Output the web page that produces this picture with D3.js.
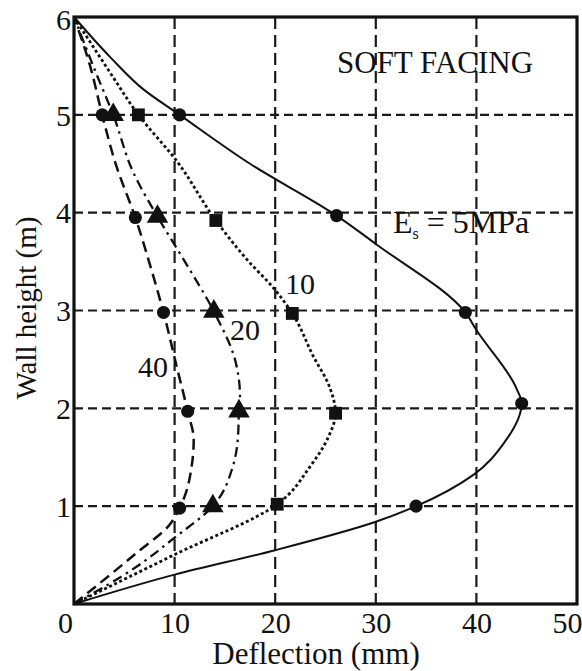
<!DOCTYPE html>
<html>
<head>
<meta charset="utf-8">
<script src="https://cdn.jsdelivr.net/npm/d3@7"></script>
<style>
  body { margin: 0; background: #fff; }
  svg { display: block; }
</style>
</head>
<body>
<div id="chart"></div>
<script>
// ---- data (deflection mm, wall height m) ----
const xTicks = [0, 10, 20, 30, 40, 50];
const yTicks = [1, 2, 3, 4, 5, 6];

// curve traces
const es5 = [[0,0],[10,0.3],[20,0.55],[30,0.84],[34,1],[39.7,1.32],[42.7,1.64],[44.5,2.05],[44,2.2],[40,2.8],[38.9,2.98],[30,3.68],[26.1,3.97],[17.5,4.5],[10.5,5],[6.9,5.26],[3.6,5.59],[0,6]];
const es10 = [[0,0],[9.9,0.5],[20.2,1.02],[23.5,1.41],[25.3,1.71],[26,1.95],[25.4,2.22],[23.8,2.53],[21.7,2.97],[20,3.21],[17.2,3.52],[14.1,3.92],[10.2,4.53],[6.4,5],[3.6,5.43],[0,6]];
const es20 = [[0,0],[6.2,0.38],[9.9,0.67],[13.8,1],[15.8,1.41],[16.3,1.71],[16.4,1.97],[16.5,2.12],[16,2.5],[13.9,2.99],[10.9,3.52],[8.3,3.96],[5.9,4.41],[3.9,5],[2.3,5.4],[0,6]];
const es40 = [[0,0],[6.2,0.52],[9.5,0.81],[10.5,0.98],[11,1.1],[11.7,1.41],[11.9,1.68],[11.3,1.97],[10.2,2.43],[8.9,2.98],[7.6,3.45],[6.1,3.95],[4.2,4.48],[2.8,5],[1.6,5.5],[0,6]];

// measured points (markers)
const es5Pts = [[34,1],[44.5,2.05],[38.9,2.98],[26.1,3.97],[10.5,5]];
const es10Pts = [[20.2,1.02],[26,1.95],[21.7,2.97],[14.1,3.92],[6.4,5]];
const es20Pts = [[13.8,1],[16.4,1.97],[13.9,2.99],[8.3,3.96],[3.9,5]];
const es40Pts = [[10.5,0.98],[11.3,1.97],[8.9,2.98],[6.1,3.95],[2.8,5]];

const series = [
  { name: "5", curve: es5, pts: es5Pts, dash: null, width: 2, marker: "circle" },
  { name: "10", curve: es10, pts: es10Pts, dash: "3,2.6", width: 2.8, marker: "square" },
  { name: "20", curve: es20, pts: es20Pts, dash: "10,5,2.5,5", width: 2.3, marker: "triangle" },
  { name: "40", curve: es40, pts: es40Pts, dash: "11,6", width: 2.5, marker: "circle" }
];

const FONT = "Liberation Serif";

/**
 * Layout
 */
const W = 582, H = 671;
const box = { l: 74, r: 577, t: 17, b: 604 };

const x = d3.scaleLinear().domain([0, 50]).range([box.l, box.r]);
const y = d3.scaleLinear().domain([0, 6]).range([box.b, box.t]);

const svg = d3.select("#chart").append("svg")
  .attr("width", W)
  .attr("height", H);

// dashed grid
svg.append("g")
  .selectAll("line")
  .data([10, 20, 30, 40])
  .join("line")
  .attr("x1", d => x(d)).attr("x2", d => x(d))
  .attr("y1", box.t).attr("y2", box.b)
  .attr("stroke", "#1a1a1a")
  .attr("stroke-width", 2.2)
  .attr("stroke-dasharray", "12,6");

svg.append("g")
  .selectAll("line")
  .data([1, 2, 3, 4, 5])
  .join("line")
  .attr("x1", box.l).attr("x2", box.r)
  .attr("y1", d => y(d)).attr("y2", d => y(d))
  .attr("stroke", "#1a1a1a")
  .attr("stroke-width", 2.2)
  .attr("stroke-dasharray", "9,5");

// curves (height is monotonic along each trace)
const line = d3.line()
  .x(d => x(d[0]))
  .y(d => y(d[1]))
  .curve(d3.curveMonotoneY);

svg.append("g")
  .selectAll("path")
  .data(series)
  .join("path")
  .attr("d", d => line(d.curve))
  .attr("fill", "none")
  .attr("stroke", "#111")
  .attr("stroke-width", d => d.width)
  .attr("stroke-dasharray", d => d.dash);

// markers
const symType = { circle: d3.symbolCircle, square: d3.symbolSquare, triangle: d3.symbolTriangle };
const symSize = { circle: 135, square: 165, triangle: 200 };

series.forEach(s => {
  svg.append("g")
    .selectAll("path")
    .data(s.pts)
    .join("path")
    .attr("transform", d => "translate(" + x(d[0]) + "," + y(d[1]) + ")")
    .attr("d", d3.symbol().type(symType[s.marker]).size(symSize[s.marker]))
    .attr("fill", "#111");
});

// frame
svg.append("rect")
  .attr("x", box.l).attr("y", box.t)
  .attr("width", box.r - box.l).attr("height", box.b - box.t)
  .attr("fill", "none")
  .attr("stroke", "#111")
  .attr("stroke-width", 3.2);

// axes (labels only, no tick marks)
const xAxis = d3.axisBottom(x).tickValues(xTicks).tickFormat(d3.format("d")).tickSize(0).tickPadding(0);
const gx = svg.append("g")
  .attr("transform", "translate(0," + box.b + ")")
  .call(xAxis);
gx.select(".domain").remove();
gx.selectAll("text")
  .attr("y", 29)
  .attr("dy", 0)
  .attr("font-size", 30)
  .attr("text-anchor", d => d === 50 ? "end" : "middle")
  .attr("x", d => d === 0 ? -9 : d === 50 ? 5 : 0);

const yAxis = d3.axisLeft(y).tickValues(yTicks).tickFormat(d3.format("d")).tickSize(0).tickPadding(0);
const gy = svg.append("g")
  .attr("transform", "translate(" + (box.l - 3) + ",0)")
  .call(yAxis);
gy.select(".domain").remove();
gy.selectAll("text")
  .attr("dy", "0.34em")
  .attr("font-size", 30)
  .attr("y", d => d === 6 ? 2 : 0);

// axis titles
svg.append("text")
  .attr("x", 316)
  .attr("y", 664)
  .attr("text-anchor", "middle")
  .attr("font-size", 31)
  .text("Deflection (mm)");

svg.append("text")
  .attr("transform", "translate(36,308) rotate(-90)")
  .attr("text-anchor", "middle")
  .attr("font-size", 29)
  .text("Wall height (m)");

// annotations
svg.append("text")
  .attr("x", 337).attr("y", 73)
  .attr("font-size", 31)
  .text("SOFT FACING");

const es = svg.append("text")
  .attr("x", 393).attr("y", 233)
  .attr("font-size", 32);
es.append("tspan").text("E");
es.append("tspan").attr("dy", 6).attr("font-size", 16).text("s");
es.append("tspan").attr("dy", -6).text(" = 5MPa");

svg.append("text").attr("x", 285).attr("y", 294).attr("font-size", 30).text("10");
svg.append("text").attr("x", 230).attr("y", 340).attr("font-size", 30).text("20");
svg.append("text").attr("x", 138).attr("y", 377).attr("font-size", 30).text("40");

// one serif face for every label
svg.selectAll("text")
  .attr("font-family", FONT)
  .attr("fill", "#111");
gx.attr("font-family", FONT);
gy.attr("font-family", FONT);
</script>
</body>
</html>
